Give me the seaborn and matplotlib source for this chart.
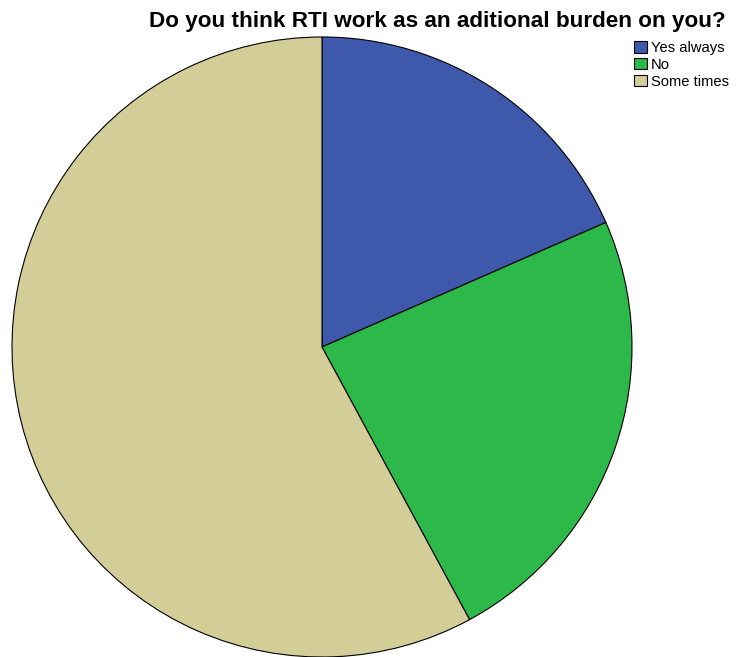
import seaborn as sns
import matplotlib.pyplot as plt
from matplotlib.patches import Patch

sns.set_theme(style="white")
plt.rcParams['font.family'] = ['Liberation Sans', 'DejaVu Sans']
plt.rcParams['text.color'] = 'black'

# data (counts)
labels = ["Yes always", "No", "Some times"]
counts = [14, 18, 44]
colors = sns.color_palette(["#3E58AC", "#2DB84A", "#D3CE97"])

fig = plt.figure(figsize=(7.36, 6.57), dpi=100)
ax = fig.add_axes([0.0163, 0.0, 0.8424, 0.9437])
ax.pie(counts, colors=colors, startangle=90, counterclock=False,
       wedgeprops=dict(edgecolor="black", linewidth=0.8))
ax.set_xlim(-1.0, 1.0)
ax.set_ylim(-1.0, 1.0)
ax.set_aspect("auto")
ax.axis("off")

fig.text(0.594, 0.968, "Do you think RTI work as an aditional burden on you?",
         ha="center", va="center", fontsize=16.2, fontweight="bold", color="black")

handles = [Patch(facecolor=c, edgecolor="black", linewidth=0.8) for c in colors]
fig.legend(handles, labels, loc="upper left", bbox_to_anchor=(0.862, 0.938),
           frameon=False, fontsize=10.6, handlelength=0.85, handleheight=0.85,
           handletextpad=0.25, labelspacing=0.2, borderpad=0.0, borderaxespad=0.0)

fig.savefig("out.png", dpi=100)
